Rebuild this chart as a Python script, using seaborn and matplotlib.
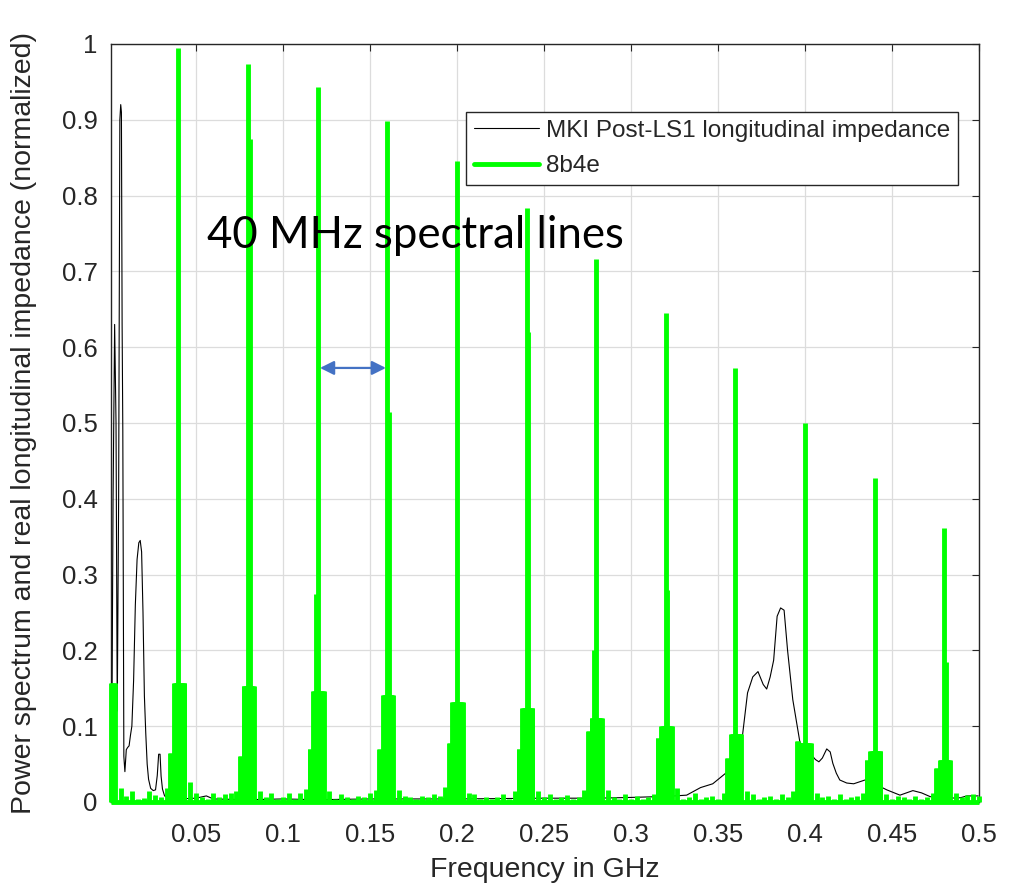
import numpy as np
import pandas as pd
import matplotlib
matplotlib.use("Agg")
import matplotlib.pyplot as plt
from matplotlib.lines import Line2D
import seaborn as sns

# ---------------- data ----------------
# MKI longitudinal impedance (normalized), frequency in GHz
imp_freq = [0.0012, 0.0016, 0.0024, 0.0033, 0.0041, 0.0048, 0.0056, 0.0063, 0.0068, 0.0072,
            0.0076, 0.0080, 0.0086, 0.0092, 0.0100, 0.0108, 0.0116, 0.0124, 0.0132, 0.0142,
            0.0152, 0.0162, 0.0172, 0.0180, 0.0188, 0.0196, 0.0204, 0.0212, 0.0220, 0.0228,
            0.0240, 0.0255, 0.0268, 0.0278, 0.0286, 0.0294, 0.0300, 0.0308, 0.0320, 0.0340,
            0.040, 0.050, 0.056, 0.060, 0.080, 0.100, 0.120, 0.150, 0.200, 0.250,
            0.280, 0.300, 0.315, 0.325, 0.332, 0.340, 0.347, 0.355, 0.360, 0.364,
            0.367, 0.370, 0.373, 0.376, 0.378, 0.380, 0.382, 0.384, 0.386, 0.388,
            0.390, 0.393, 0.397, 0.400, 0.403, 0.406, 0.408, 0.410, 0.4125, 0.4145,
            0.416, 0.418, 0.420, 0.424, 0.428, 0.4345, 0.440, 0.447, 0.4546, 0.462,
            0.467, 0.472, 0.480, 0.487, 0.490, 0.493, 0.4995]
imp_val = [0.045, 0.050, 0.40, 0.63, 0.50, 0.12, 0.40, 0.90, 0.92, 0.91,
           0.63, 0.49, 0.06, 0.04, 0.069, 0.072, 0.074, 0.088, 0.10, 0.16,
           0.26, 0.32, 0.342, 0.345, 0.33, 0.25, 0.14, 0.09, 0.05, 0.03,
           0.018, 0.015, 0.016, 0.035, 0.063, 0.063, 0.034, 0.017, 0.008, 0.005,
           0.004, 0.005, 0.008, 0.004, 0.003, 0.004, 0.003, 0.004, 0.004, 0.005,
           0.005, 0.006, 0.007, 0.008, 0.009, 0.019, 0.024, 0.039, 0.060, 0.086,
           0.144, 0.165, 0.172, 0.155, 0.149, 0.165, 0.187, 0.245, 0.256, 0.253,
           0.200, 0.135, 0.080, 0.066, 0.064, 0.056, 0.053, 0.058, 0.070, 0.066,
           0.051, 0.038, 0.029, 0.025, 0.024, 0.029, 0.024, 0.016, 0.009, 0.015,
           0.012, 0.007, 0.006, 0.005, 0.006, 0.008, 0.008]

# 8b4e beam power spectrum (normalized)
harmonic_freqs = [0.00, 0.04, 0.08, 0.12, 0.16, 0.20, 0.24, 0.28, 0.32, 0.36, 0.40, 0.44, 0.48]
main_peaks = [0.995, 0.973, 0.943, 0.898, 0.845, 0.783, 0.716, 0.645, 0.573, 0.500, 0.428, 0.362]
cluster_level = [0.157, 0.157, 0.153, 0.147, 0.141, 0.132, 0.124, 0.111, 0.100, 0.090, 0.078, 0.067, 0.055]
cluster_shoulder = [0.045, 0.065, 0.060, 0.070, 0.070, 0.078, 0.070, 0.093, 0.085, 0.058, 0.080, 0.055, 0.045]
shoulder_offsets_mhz = [-4.6, -4.2]
top_offsets_mhz = [-2.6, -2.1, -1.6, -1.1, -0.6, -0.1, 0.4, 0.9, 1.4, 1.9, 2.4, 2.9, 3.4]
sec_freqs = [0.081, 0.119, 0.161, 0.241, 0.279, 0.321, 0.481]
sec_vals = [0.875, 0.275, 0.515, 0.620, 0.200, 0.280, 0.185]
noise_offsets_mhz = [6.7, 10.0, 13.3, 16.7, 20.0, 23.3, 26.7, 30.0, 33.3]
noise_vals = [
    [0.018, 0.008, 0.015, 0.004, 0.005, 0.015, 0.009, 0.006, 0.018],
    [0.026, 0.012, 0.006, 0.004, 0.012, 0.006, 0.010, 0.012, 0.014],
    [0.014, 0.006, 0.012, 0.004, 0.006, 0.012, 0.004, 0.012, 0.017],
    [0.014, 0.004, 0.010, 0.006, 0.004, 0.008, 0.006, 0.012, 0.016],
    [0.016, 0.008, 0.006, 0.004, 0.008, 0.006, 0.010, 0.008, 0.020],
    [0.012, 0.010, 0.004, 0.007, 0.004, 0.006, 0.010, 0.004, 0.014],
    [0.014, 0.006, 0.010, 0.004, 0.006, 0.009, 0.004, 0.006, 0.016],
    [0.016, 0.006, 0.004, 0.010, 0.004, 0.008, 0.004, 0.006, 0.010],
    [0.018, 0.004, 0.006, 0.012, 0.004, 0.006, 0.008, 0.004, 0.012],
    [0.014, 0.010, 0.004, 0.006, 0.008, 0.004, 0.010, 0.006, 0.014],
    [0.012, 0.006, 0.008, 0.004, 0.010, 0.004, 0.006, 0.008, 0.012],
    [0.010, 0.004, 0.008, 0.006, 0.004, 0.008, 0.004, 0.006, 0.012],
    [0.012, 0.006, 0.009, 0.010, 0.008],
]

x_ticks = [0.05, 0.1, 0.15, 0.2, 0.25, 0.3, 0.35, 0.4, 0.45, 0.5]
x_tick_labels = ["0.05", "0.1", "0.15", "0.2", "0.25", "0.3", "0.35", "0.4", "0.45", "0.5"]
y_ticks = [0, 0.1, 0.2, 0.3, 0.4, 0.5, 0.6, 0.7, 0.8, 0.9, 1.0]
y_tick_labels = ["0", "0.1", "0.2", "0.3", "0.4", "0.5", "0.6", "0.7", "0.8", "0.9", "1"]
x_range = (0.0012, 0.5)

# ---------------- build spectrum strokes (one short vertical line per component) ----------------
strokes = []
for i, h in enumerate(harmonic_freqs):
    for off in shoulder_offsets_mhz:
        strokes.append((h + off * 1e-3, cluster_shoulder[i]))
    for off in top_offsets_mhz:
        strokes.append((h + off * 1e-3, cluster_level[i]))
for h, p in zip(harmonic_freqs[1:], main_peaks):
    strokes.append((h, p))
for f, v in zip(sec_freqs, sec_vals):
    strokes.append((f, v))
for g, vals in enumerate(noise_vals):
    for off, v in zip(noise_offsets_mhz, vals):
        strokes.append((harmonic_freqs[0] + 0.04 * g + off * 1e-3, v))
strokes = [s for s in strokes if x_range[0] <= s[0] <= x_range[1]]

rows = [(-1, x_range[0], 0.0), (-1, x_range[1], 0.0)]  # baseline of the spectrum trace
for k, (f, v) in enumerate(strokes):
    rows.append((k, f, 0.0))
    rows.append((k, f, v))
spec_df = pd.DataFrame(rows, columns=["stroke", "f", "p"])
imp_df = pd.DataFrame({"f": imp_freq, "z": imp_val})

# ---------------- plot ----------------
sns.set_style("white")
plt.rcParams["font.family"] = ["Liberation Sans", "DejaVu Sans"]
ink = "#262626"
green = "#00FF00"

fig = plt.figure(figsize=(10.2, 8.9), dpi=100)
ax = fig.add_axes([0.1088, 0.0989, 0.851, 0.8517])

sns.lineplot(data=imp_df, x="f", y="z", ax=ax, color="black", linewidth=0.8,
             sort=False, estimator=None, legend=False)
sns.lineplot(data=spec_df, x="f", y="p", units="stroke", ax=ax, color=green, linewidth=3.5,
             sort=False, estimator=None, legend=False, solid_capstyle="butt", clip_on=False)

ax.set_xlim(*x_range)
ax.set_ylim(0, 1)
ax.set_xticks(x_ticks)
ax.set_xticklabels(x_tick_labels)
ax.set_yticks(y_ticks)
ax.set_yticklabels(y_tick_labels)
ax.grid(True, color="#dcdcdc", linewidth=0.9)
ax.set_axisbelow(True)
for s in ax.spines.values():
    s.set_color(ink)
    s.set_linewidth(1.0)
    s.set_visible(True)
    s.set_zorder(1.5)
ax.tick_params(axis="both", direction="in", length=5, width=0.8, color=ink,
               labelcolor=ink, labelsize=18.5, top=True, right=True)
ax.tick_params(axis="x", pad=15)
ax.tick_params(axis="y", pad=9.5)

ax.set_xlabel("Frequency in GHz", fontsize=20.5, color=ink)
ax.set_ylabel("Power spectrum and real longitudinal impedance (normalized)", fontsize=20.5, color=ink)
ax.xaxis.set_label_coords(0.5, -0.072)
ax.yaxis.set_label_coords(-0.085, 0.5)

handles = [Line2D([], [], color="black", linewidth=0.8),
           Line2D([], [], color=green, linewidth=3.5)]
labels = ["MKI Post-LS1 longitudinal impedance", "8b4e"]
leg = ax.legend(handles, labels, loc="upper right", bbox_to_anchor=(0.9758, 0.9103),
                borderaxespad=0, fontsize=17.5, frameon=True, fancybox=False, framealpha=1,
                edgecolor=ink, handlelength=2.7, handletextpad=0.28,
                labelspacing=0.55, borderpad=0.32)
leg.get_frame().set_linewidth(1.0)
for t in leg.get_texts():
    t.set_color(ink)

ax.text(0.0563, 0.731, "40 MHz spectral lines", fontsize=31.5, family=["Lato", "DejaVu Sans"],
        color="black", ha="left", va="baseline")
ax.annotate("", xy=(0.1592, 0.5726), xytext=(0.1213, 0.5726),
            arrowprops=dict(arrowstyle="<|-|>", color="#4472C4", lw=1.6,
                            mutation_scale=21, shrinkA=0, shrinkB=0))

fig.savefig("out.png", dpi=100)
